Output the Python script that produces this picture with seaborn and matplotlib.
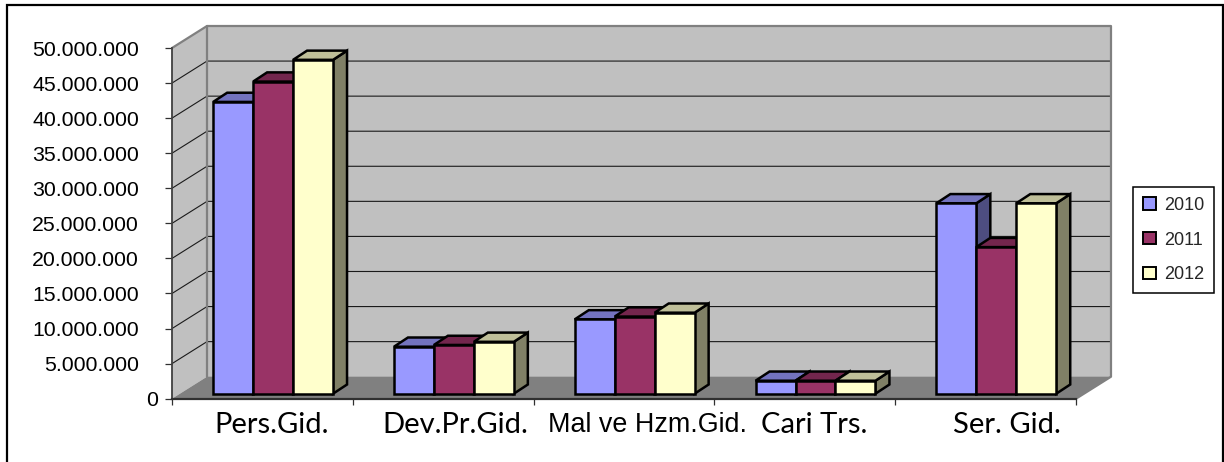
import numpy as np
import pandas as pd
import seaborn as sns
import matplotlib
matplotlib.use("Agg")
import matplotlib.pyplot as plt
from matplotlib.patches import Polygon, Rectangle
from matplotlib.lines import Line2D
from matplotlib.transforms import Affine2D, IdentityTransform
from matplotlib.colors import to_rgb

categories = ["Pers.Gid.", "Dev.Pr.Gid.", "Mal ve Hzm.Gid.", "Cari Trs.", "Ser. Gid."]
years = ["2010", "2011", "2012"]
v2010 = [41600000, 6700000, 10600000, 1850000, 27150000]
v2011 = [44500000, 6950000, 11000000, 1850000, 20900000]
v2012 = [47600000, 7400000, 11550000, 1850000, 27150000]
yticks = list(range(0, 50000001, 5000000))
colors = ["#9999FF", "#993366", "#FFFFCC"]
label_shift = [9, 12, 24, 9, 21.5]
label_font = ["Lato", "Lato", "Liberation Sans", "Lato", "Lato"]
label_size = [21, 21, 19.4, 21, 21]

W, H = 1224, 462
sns.set_theme(style="white")
plt.rcParams["font.family"] = ["Liberation Sans"]
fig = plt.figure(figsize=(W / 100, H / 100), dpi=100)
ax = fig.add_axes([172 / W, (H - 398.7) / H, 904 / W, 350.7 / H])
ax.patch.set_visible(False)

df = pd.DataFrame({
    "cat": categories * 3,
    "year": np.repeat(years, 5),
    "val": v2010 + v2011 + v2012,
})
sns.barplot(data=df, x="cat", y="val", hue="year", palette=colors, saturation=1,
            width=120 / 181, gap=0, ax=ax, legend=False, edgecolor="black", linewidth=1.8)
ax.set_xlim(-0.5, 4.5)
ax.set_ylim(0, 50000000)
ax.set_xlabel("")
ax.set_ylabel("")

WALL_DX, WALL_DY = 35, 22
BAR_DX, BAR_DY = 10.7, 5
DEPTH_DX, DEPTH_DY = 14, 9.2
GREY = "#808080"
pt = ax.transData.transform
idt = IdentityTransform()


def poly(points, zorder, fc="none", ec="none", lw=0):
    ax.add_patch(Polygon(points, closed=True, transform=idt, clip_on=False,
                         facecolor=fc, edgecolor=ec, linewidth=lw, zorder=zorder, joinstyle="miter"))


(x0, y0), (x1, y1) = pt((-0.5, 0)), pt((4.5, 50000000))
d = np.array([WALL_DX, WALL_DY])
# back wall, side wall, floor
poly([(x0 + d[0], y0 + d[1]), (x1 + d[0], y0 + d[1]), (x1 + d[0], y1 + d[1]), (x0 + d[0], y1 + d[1])], 0.5, "#C0C0C0")
poly([(x0, y0), (x0 + d[0], y0 + d[1]), (x0 + d[0], y1 + d[1]), (x0, y1)], 0.5, "#C0C0C0")
poly([(x0, y0), (x1, y0), (x1 + d[0], y0 + d[1]), (x0 + d[0], y0 + d[1])], 0.6, "#808080")
# grid
for v in yticks[1:-1]:
    _, y = pt((0, v))
    ax.add_line(Line2D([x0, x0 + d[0], x1 + d[0]], [y, y + d[1], y + d[1]], transform=idt,
                       color="#1a1a1a", lw=0.8, clip_on=False, zorder=0.8))
# wall outlines
ax.add_line(Line2D([x0, x0 + d[0], x1 + d[0], x1 + d[0], x1], [y1, y1 + d[1], y1 + d[1], y0 + d[1], y0],
                   transform=idt, color=GREY, lw=1.6, clip_on=False, zorder=0.9))
ax.add_line(Line2D([x0 + d[0], x0 + d[0]], [y1 + d[1], y0 + d[1]], transform=idt, color=GREY, lw=1.6,
                   clip_on=False, zorder=0.9))

# 3-D bars: each seaborn bar is shifted back, and gets a top and a side face
shift = Affine2D().translate(BAR_DX, BAR_DY)
z = 2
for cat_i in range(len(categories)):
    for s_i, cont in enumerate(ax.containers):
        bar = cont.patches[cat_i]
        col = np.array(to_rgb(colors[s_i]))
        bx, bw, bh = bar.get_x(), bar.get_width(), bar.get_height()
        (ax0, ay0), (ax1, ay1) = pt((bx, 0)), pt((bx + bw, bh))
        ax0 += BAR_DX; ax1 += BAR_DX; ay0 += BAR_DY; ay1 += BAR_DY
        poly([(ax1, ay0), (ax1 + DEPTH_DX, ay0 + DEPTH_DY), (ax1 + DEPTH_DX, ay1 + DEPTH_DY), (ax1, ay1)],
             z, tuple(col * 0.5), "black", 1.8)
        poly([(ax0, ay1), (ax1, ay1), (ax1 + DEPTH_DX, ay1 + DEPTH_DY), (ax0 + DEPTH_DX, ay1 + DEPTH_DY)],
             z + 0.1, tuple(col * 0.75), "black", 1.8)
        bar.set_transform(ax.transData + shift)
        bar.set_clip_on(False)
        bar.set_zorder(z + 0.2)
        bar.set_joinstyle("miter")
        z += 1

# axes
for s in ("top", "right"):
    ax.spines[s].set_visible(False)
ax.spines["left"].set_color("#404040")
ax.spines["left"].set_linewidth(1.3)
ax.spines["bottom"].set_color("#303030")
ax.spines["bottom"].set_linewidth(1.6)
for s in ax.spines.values():
    s.set_zorder(1)
ax.set_yticks(yticks)
ax.set_yticklabels([f"{v:,}".replace(",", ".") for v in yticks], fontsize=15.3, color="black")
ax.tick_params(axis="y", length=5, width=0.9, color="#303030", left=True, pad=18.7)
ylab = ax.yaxis.get_majorticklabels()[0]
ylab.set_transform(ylab.get_transform() + Affine2D().translate(19, 0))
ax.set_xticks(np.arange(-0.5, 5, 1))
ax.set_xticklabels([])
ax.set_xticks(np.arange(5), minor=True)
ax.set_xticklabels(categories, minor=True, color="black")
ax.tick_params(axis="x", which="major", length=4, width=0.9, color="#303030", bottom=True)
ax.tick_params(axis="x", which="minor", length=0, pad=9.5)
for lab, dx, fam, fs in zip(ax.xaxis.get_minorticklabels(), label_shift, label_font, label_size):
    lab.set_transform(lab.get_transform() + Affine2D().translate(dx, 0))
    lab.set_family(fam)
    lab.set_fontsize(fs)

# legend
handles = [Rectangle((0, 0), 1, 1, facecolor=c, edgecolor="black", linewidth=1.4) for c in colors]
leg = ax.legend(handles, years, loc="upper left", bbox_to_anchor=(1133 / W, 1 - 187 / H),
                bbox_transform=fig.transFigure, borderaxespad=0, fancybox=False, framealpha=1,
                edgecolor="black", fontsize=13, handlelength=0.72, handleheight=0.68,
                handletextpad=0.45, labelspacing=0.98, borderpad=0.55)
leg.get_frame().set_linewidth(1.1)
leg.set_zorder(100)

# chart frame, open at the bottom
fig.add_artist(Line2D([7 / W, 7 / W, 1223 / W, 1223 / W], [0, 1 - 5 / H, 1 - 5 / H, 0],
                      transform=fig.transFigure, color="black", lw=1.6, solid_joinstyle="miter"))
fig.savefig("out.png", dpi=100)
